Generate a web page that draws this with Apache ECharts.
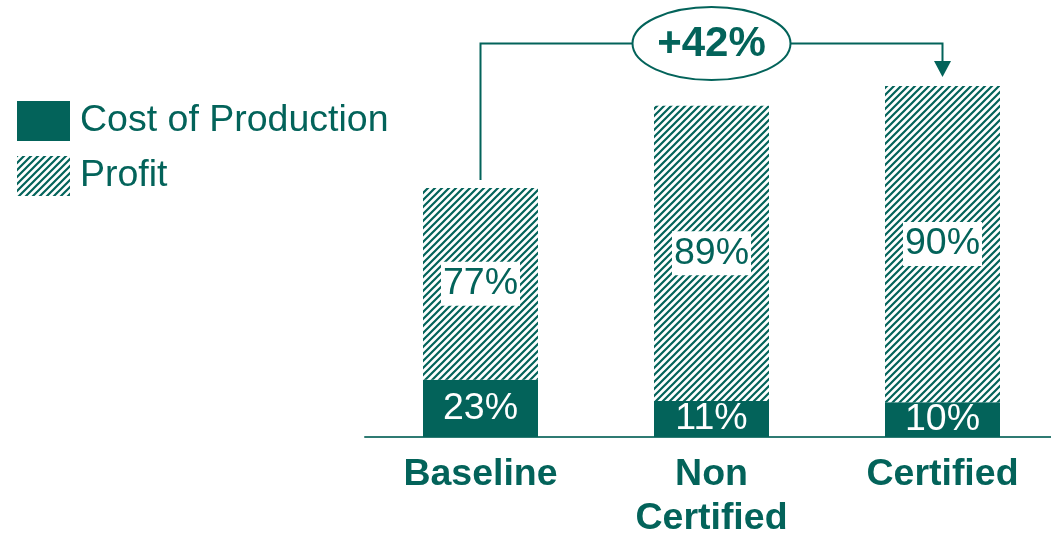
<!DOCTYPE html>
<html>
<head>
<meta charset="utf-8">
<script src="https://cdn.jsdelivr.net/npm/echarts@6/dist/echarts.min.js"></script>
<style>
html,body{margin:0;padding:0;background:#fff;overflow:hidden;}
#chart{width:1051px;height:533px;}
</style>
</head>
<body>
<div id="chart"></div>
<script>
// ---- data ----
var categories = ['Baseline', 'Non\nCertified', 'Certified'];
var costValues = [23, 14.5, 14];
var profitValues = [77, 118.5, 127];
var costLabels = ['23%', '11%', '10%'];
var profitLabels = ['77%', '89%', '90%'];
var seriesNames = ['Cost of Production', 'Profit'];
var changeLabel = '+42%';
var annotationLevel = 158;

// ---- style ----
var GREEN = '#03635a';
var FONT = '"Liberation Sans", Arial, sans-serif';
var FS = 37.5;

function makeHatch() {
  var s = 7;
  var c = document.createElement('canvas');
  c.width = s; c.height = s;
  var ctx = c.getContext('2d');
  ctx.fillStyle = '#ffffff';
  ctx.fillRect(0, 0, s, s);
  ctx.strokeStyle = GREEN;
  ctx.lineWidth = 2.2;
  ctx.beginPath();
  ctx.moveTo(-1, s + 1); ctx.lineTo(s + 1, -1);
  ctx.moveTo(-1, 1); ctx.lineTo(1, -1);
  ctx.moveTo(s - 1, s + 1); ctx.lineTo(s + 1, s - 1);
  ctx.stroke();
  return c;
}
var hatch = { image: makeHatch(), repeat: 'repeat' };

var chart = echarts.init(document.getElementById('chart'), null, { renderer: 'canvas', width: 1051, height: 533 });

var option = {
  animation: false,
  backgroundColor: '#ffffff',
  textStyle: { fontFamily: FONT },
  legend: {
    orient: 'vertical',
    left: 17,
    top: 101,
    padding: 0,
    itemWidth: 53,
    itemHeight: 40,
    itemGap: 15,
    icon: 'rect',
    data: seriesNames,
    textStyle: { fontSize: FS, color: GREEN, fontFamily: FONT, padding: [9, 0, 0, 5] }
  },
  grid: { left: 365, top: 38.6, width: 693, height: 398.4, containLabel: false, outerBoundsMode: 'none' },
  xAxis: {
    type: 'category',
    data: categories,
    axisLine: { lineStyle: { color: '#2f7b73', width: 2 } },
    axisTick: { show: false },
    axisLabel: {
      interval: 0,
      fontSize: FS,
      fontWeight: 'bold',
      color: GREEN,
      lineHeight: 44,
      margin: 16,
      fontFamily: FONT
    }
  },
  yAxis: {
    type: 'value', min: 0, max: 160, show: false,
    splitLine: { show: false }
  },
  series: [
    {
      name: seriesNames[0],
      type: 'bar',
      stack: 'total',
      barWidth: 115,
      data: costValues,
      itemStyle: { color: GREEN },
      label: {
        show: true,
        position: 'inside',
        color: '#ffffff',
        fontSize: FS,
        fontFamily: FONT,
        formatter: function (p) { return costLabels[p.dataIndex]; }
      }
    },
    {
      name: seriesNames[1],
      type: 'bar',
      stack: 'total',
      barWidth: 115,
      data: profitValues,
      itemStyle: { color: hatch },
      label: {
        show: true,
        position: 'inside',
        color: GREEN,
        fontSize: FS,
        lineHeight: 38,
        fontFamily: FONT,
        backgroundColor: '#ffffff',
        padding: [3, 2],
        formatter: function (p) { return profitLabels[p.dataIndex]; }
      }
    }
  ]
};
chart.setOption(option);

// ---- annotation bracket, anchored to the bars through the axes ----
function px(i, v) { return chart.convertToPixel({ xAxisIndex: 0, yAxisIndex: 0 }, [i, v]); }
var last = categories.length - 1;
var pStart = px(0, costValues[0] + profitValues[0]);
var pEnd = px(last, costValues[last] + profitValues[last]);
var pMid = px(1, annotationLevel);
var yLevel = pMid[1];
var startY = pStart[1] - 8;
var tipY = pEnd[1] - 9;
var headH = 16, headW = 17;

chart.setOption({
  graphic: [
    {
      type: 'polyline',
      shape: { points: [[pStart[0], startY], [pStart[0], yLevel], [pEnd[0], yLevel], [pEnd[0], tipY - headH + 1]] },
      style: { stroke: GREEN, lineWidth: 2, fill: null },
      z: 10
    },
    {
      type: 'polygon',
      shape: { points: [[pEnd[0] - headW / 2, tipY - headH], [pEnd[0] + headW / 2, tipY - headH], [pEnd[0], tipY]] },
      style: { fill: GREEN },
      z: 10
    },
    {
      type: 'ellipse',
      shape: { cx: pMid[0], cy: yLevel, rx: 79, ry: 36.5 },
      style: { fill: '#ffffff', stroke: GREEN, lineWidth: 2 },
      z: 11
    },
    {
      type: 'text',
      x: pMid[0], y: yLevel + 1,
      style: {
        text: changeLabel,
        fill: GREEN,
        font: 'bold 42px ' + FONT,
        align: 'center',
        verticalAlign: 'middle'
      },
      z: 12
    }
  ]
});
</script>
</body>
</html>
